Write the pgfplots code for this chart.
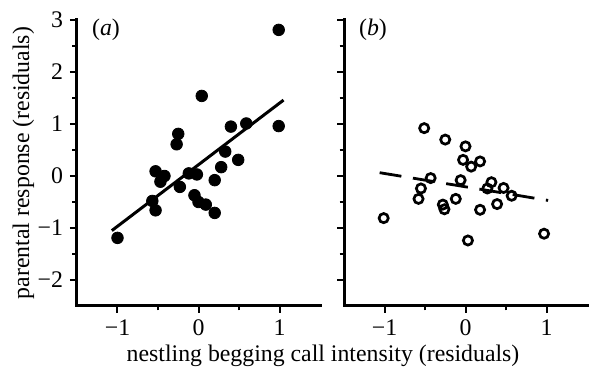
\documentclass[border=0pt]{standalone}
\usepackage{fontspec}
\setmainfont{Liberation Serif}
\usepackage{pgfplots}
\pgfplotsset{compat=1.18}
\pgfplotsset{
 myax/.style={
  scale only axis, width=121.5pt, height=143pt,
  xmin=-1.5, xmax=1.5, ymin=-2.5, ymax=3,
  axis lines*=left, axis line style={-, line width=1.5pt, line cap=rect},
  xtick={-1,0,1}, xticklabels={−1,0,1},
  ytick={-2,-1,0,1,2,3},
  minor xtick={-0.5,0.5}, minor ytick={-1.5,-0.5,0.5,1.5,2.5},
  tick align=outside, major tick length=3.5pt, minor tick length=2.25pt,
  every tick/.style={black, line width=1pt},
  font=\fontsize{11.9}{14}\selectfont,
  clip=false,
 }}
\begin{document}
\begin{tikzpicture}[x=1pt,y=1pt]
\path (0,0) rectangle (294.5,186);
\begin{axis}[myax, at={(38.5pt,33pt)}, anchor=south west,
  yticklabels={−2,−1,0,1,2,3},
  ylabel={parental response (residuals)},
  ylabel style={at={(axis description cs:-0.1975,0.5)}, anchor=base}]
\addplot[only marks, mark=*, mark size=2.9pt, black] coordinates {
(0.99,2.81) (-1.0,-1.19) (0.04,1.54) (0.99,0.96) (0.59,1.01) (0.40,0.95)
(-0.25,0.81) (-0.27,0.61) (0.33,0.47) (0.49,0.31) (0.28,0.17) (-0.53,0.09)
(-0.42,0.0) (-0.47,-0.11) (-0.12,0.05) (-0.02,0.03) (-0.23,-0.21) (0.20,-0.08)
(-0.57,-0.48) (-0.53,-0.66) (-0.05,-0.37) (0.0,-0.5) (0.09,-0.55) (0.20,-0.71)
};
\addplot[black, line width=1.5pt] coordinates {(-1.07,-1.05) (1.05,1.46)};
\node[anchor=base west] at (rel axis cs:0.033,0.945) {(\textit{a})};
\end{axis}
\begin{axis}[myax, at={(172pt,33pt)}, anchor=south west,
  yticklabels={}]
\addplot[only marks, mark=o, mark size=2.3pt, line width=1.35pt, black] coordinates {
(-0.51,0.92) (-0.25,0.70) (0.0,0.57) (-0.03,0.31) (0.18,0.28) (0.07,0.18)
(-0.43,-0.04) (-0.06,-0.08) (-0.55,-0.24) (-0.58,-0.44) (0.32,-0.12) (0.27,-0.24)
(0.47,-0.23) (0.57,-0.38) (-0.28,-0.55) (-0.26,-0.64) (-0.12,-0.44) (0.18,-0.65)
(0.39,-0.54) (-1.01,-0.81) (0.03,-1.24) (0.97,-1.11)
};
\addplot[black, line width=1.4pt, dash pattern=on 11pt off 5.85pt] coordinates {(-1.06,0.064) (1.02,-0.4695)};
\node[anchor=base west] at (rel axis cs:0.033,0.945) {(\textit{b})};
\end{axis}
\node[anchor=base, font=\fontsize{11.9}{14}\selectfont] at (161.5,5) {nestling begging call intensity (residuals)};
\end{tikzpicture}
\end{document}
